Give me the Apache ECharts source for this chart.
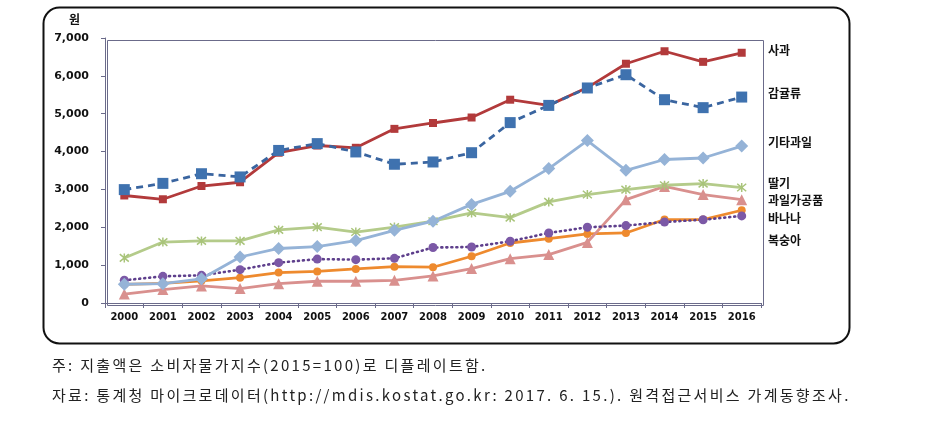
<!DOCTYPE html>
<html><head><meta charset="utf-8">
<script src="https://cdn.jsdelivr.net/npm/echarts@6/dist/echarts.min.js"></script>
<style>
html,body{margin:0;padding:0;background:#fff}
#wrap{position:relative;width:934px;height:434px}
#c{width:934px;height:434px}
.fn{position:absolute;left:52px;font:15px "Noto Sans CJK KR",sans-serif;color:#222;letter-spacing:2.3px;line-height:20px;white-space:nowrap}
</style>
</head><body><div id="wrap"><div id="c"></div></div>
<script>
const years = ['2000','2001','2002','2003','2004','2005','2006','2007','2008','2009','2010','2011','2012','2013','2014','2015','2016'];
const seriesNames = ['사과','감귤류','기타과일','딸기','과일가공품','바나나','복숭아'];
const apple     = [2840,2740,3090,3190,3970,4160,4100,4600,4755,4900,5370,5220,5690,6320,6650,6370,6610];
const citrus    = [2995,3160,3415,3330,4030,4210,3990,3665,3725,3970,4765,5220,5680,6030,5370,5160,5440];
const otherFruit= [495,510,640,1215,1440,1490,1650,1920,2160,2605,2950,3550,4290,3505,3790,3830,4145];
const strawberry= [1190,1610,1640,1640,1930,2005,1875,2005,2160,2380,2255,2670,2865,2995,3110,3155,3050];
const processed = [235,355,450,380,510,575,575,600,715,910,1170,1280,1600,2730,3080,2865,2730];
const banana    = [490,520,585,670,805,835,900,960,945,1235,1585,1700,1825,1850,2205,2205,2450];
const peach     = [600,705,730,880,1065,1160,1145,1180,1465,1480,1630,1850,2000,2045,2140,2200,2300];
const yTicks = [0,1000,2000,3000,4000,5000,6000,7000];
const footnotes = ['주: 지출액은 소비자물가지수(2015=100)로 디플레이트함.',
  '자료: 통계청 마이크로데이터(http://mdis.kostat.go.kr: 2017. 6. 15.). 원격접근서비스 가계동향조사.'];
const unitLabel = '원';

const chart = echarts.init(document.getElementById('c'), null, {renderer:'canvas'});
const star = 'path://M0,0L10,10M10,0L0,10M5,-1L5,11';
function mk(name, data, color, symbol, size, lineType, extra){
  return Object.assign({
    name, type:'line', data, symbol, symbolSize:size, showSymbol:true,
    lineStyle:{color, width:2.8, type:lineType||'solid', cap:'round'},
    itemStyle:{color}, emphasis:{disabled:true}, animation:false, z:2
  }, extra||{});
}
const series = [
  mk(seriesNames[5], banana, '#EE8A2E', 'circle', 8, 'solid'),
  mk(seriesNames[4], processed, '#D9908E', 'triangle', 11, 'solid'),
  mk(seriesNames[6], peach, '#6E4C9A', 'circle', 9, [1,4], {lineStyle:{color:'#5E3F8C', width:2.6, type:[1,4], cap:'round'}, itemStyle:{color:'#7B58A6'}}),
  mk(seriesNames[3], strawberry, '#B4CB8A', star, 9, 'solid', {itemStyle:{color:'transparent', borderColor:'#A9C47A', borderWidth:1.5}}),
  mk(seriesNames[2], otherFruit, '#95B3D7', 'diamond', 13, 'solid'),
  mk(seriesNames[0], apple, '#B23A3B', 'rect', 8, 'solid'),
  mk(seriesNames[1], citrus, '#3F72AF', 'rect', 11, [7,5], {lineStyle:{color:'#3A65A0', width:2.8, type:[7,5]}, itemStyle:{color:'#3F72AF'}}),
];

const legendPos = [52,95,144,185,202,220,242];
const gfx = [
  {type:'rect', left:41, top:5, shape:{width:806, height:336, r:16}, style:{fill:'none', stroke:'#111', lineWidth:2}, z:0},
  {type:'rect', left:105, top:38, shape:{width:656, height:265}, style:{fill:'none', stroke:'#6B6B8A', lineWidth:1}, z:1},
  {type:'text', left:69, top:13, style:{text:unitLabel, font:'bold 12px "Noto Sans CJK KR"', fill:'#111'}},
];
seriesNames.forEach((n,i)=>{
  gfx.push({type:'text', left:768, top:legendPos[i]-8, style:{text:n, font:'bold 12px "Noto Sans CJK KR"', fill:'#111'}});
});

chart.setOption({
  animation:false,
  grid:{left:105, right:173, top:38, bottom:131, containLabel:false},
  xAxis:{type:'category', data:years, boundaryGap:true,
    axisLine:{lineStyle:{color:'#6B6B8A', width:1}},
    axisTick:{show:true, length:5, lineStyle:{color:'#6B6B8A'}, alignWithLabel:false},
    axisLabel:{color:'#111', fontFamily:'DejaVu Sans', fontWeight:'bold', fontSize:10, margin:9},
    splitLine:{show:false}},
  yAxis:{type:'value', min:yTicks[0], max:yTicks[yTicks.length-1], interval:1000,
    axisLine:{show:true, lineStyle:{color:'#6B6B8A', width:1}},
    axisTick:{show:true, length:4, lineStyle:{color:'#6B6B8A'}},
    axisLabel:{color:'#111', fontFamily:'DejaVu Sans', fontWeight:'bold', fontSize:11, margin:16,
      formatter:v=>v.toLocaleString('en-US')},
    splitLine:{show:false}},
  series,
  graphic:gfx
});

const wrap = document.getElementById('wrap');
footnotes.forEach((t,i)=>{
  const d = document.createElement('div');
  d.className = 'fn';
  d.style.top = (355 + i*30) + 'px';
  d.textContent = t;
  wrap.appendChild(d);
});
</script></body></html>
